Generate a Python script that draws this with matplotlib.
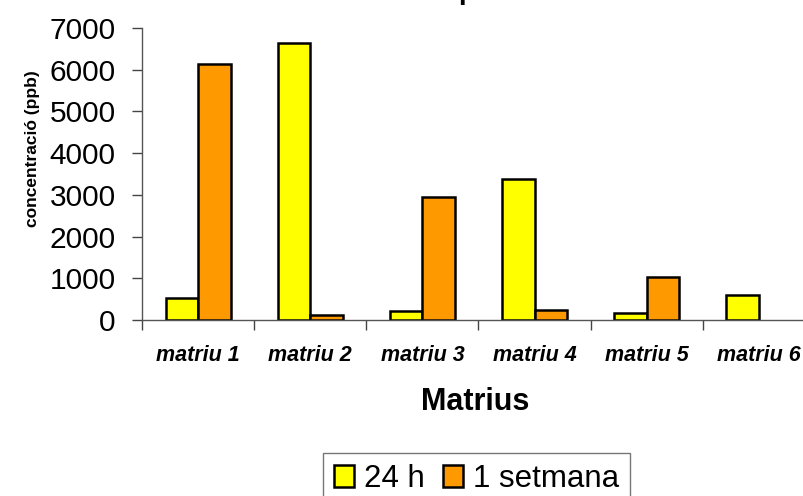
import matplotlib
matplotlib.use("Agg")
import matplotlib.pyplot as plt
import numpy as np

plt.rcParams['font.family'] = ['Liberation Sans', 'DejaVu Sans']

categories = ["matriu 1", "matriu 2", "matriu 3", "matriu 4", "matriu 5", "matriu 6"]
series_names = ["24 h", "1 setmana"]
vals_24h = [530, 6630, 220, 3380, 170, 600]
vals_1setmana = [6130, 130, 2950, 240, 1020, 0]
yticks = [0, 1000, 2000, 3000, 4000, 5000, 6000, 7000]

W, H = 804, 496
fig = plt.figure(figsize=(W / 100, H / 100), dpi=100)
ax = fig.add_axes([142 / W, 1 - 320 / H, (815 - 142) / W, (320 - 28) / H])

x = np.arange(1, len(categories) + 1)
bw = 0.29
b1 = ax.bar(x - bw / 2, vals_24h, width=bw, color="#FFFF00", edgecolor="black", linewidth=1.8, label=series_names[0])
b2 = ax.bar(x + bw / 2, vals_1setmana, width=bw, color="#FF9900", edgecolor="black", linewidth=1.8, label=series_names[1])
for bars in (b1, b2):
    for p in bars.patches:
        if p.get_height() == 0:
            p.set_visible(False)

ax.set_xlim(0.5, len(categories) + 0.5)
ax.set_ylim(0, 7000)
ax.set_yticks(yticks)
ax.set_yticklabels([str(v) for v in yticks], fontsize=21.5)
ax.tick_params(axis='y', direction='out', length=7, width=1, color='#444444', pad=12)

ax.set_xticks(x)
ax.set_xticklabels(categories, fontsize=15.5, fontweight='bold', fontstyle='italic')
ax.set_xticks(np.arange(0.5, len(categories) + 0.5, 1.0), minor=True)
ax.tick_params(axis='x', which='major', length=0, pad=18)
ax.tick_params(axis='x', which='minor', direction='out', length=7, width=1, color='#444444')

for s in ['top', 'right']:
    ax.spines[s].set_visible(False)
for s in ['left', 'bottom']:
    ax.spines[s].set_color('#555555')
    ax.spines[s].set_linewidth(1.0)

fig.text(33 / W, 1 - 149 / H, "concentració (ppb)", rotation=90, ha='center', va='center',
         fontsize=12.5, fontweight='bold')
fig.text(475 / W, 1 - 402 / H, "Matrius", ha='center', va='center', fontsize=22, fontweight='bold')
fig.text(458 / W, 1.0 + 1 / H, "p", ha='left', va='baseline', fontsize=20, fontweight='bold')

leg = fig.legend(loc='upper left', bbox_to_anchor=(323 / W, 1 - 453 / H), ncol=2, fontsize=22.5,
                 frameon=True, fancybox=False, handlelength=0.65, handleheight=0.7,
                 handletextpad=0.3, columnspacing=0.6, borderpad=0.35, borderaxespad=0)
leg.get_frame().set_edgecolor('#555555')
leg.get_frame().set_linewidth(1.0)

fig.savefig("out.png", dpi=100)
